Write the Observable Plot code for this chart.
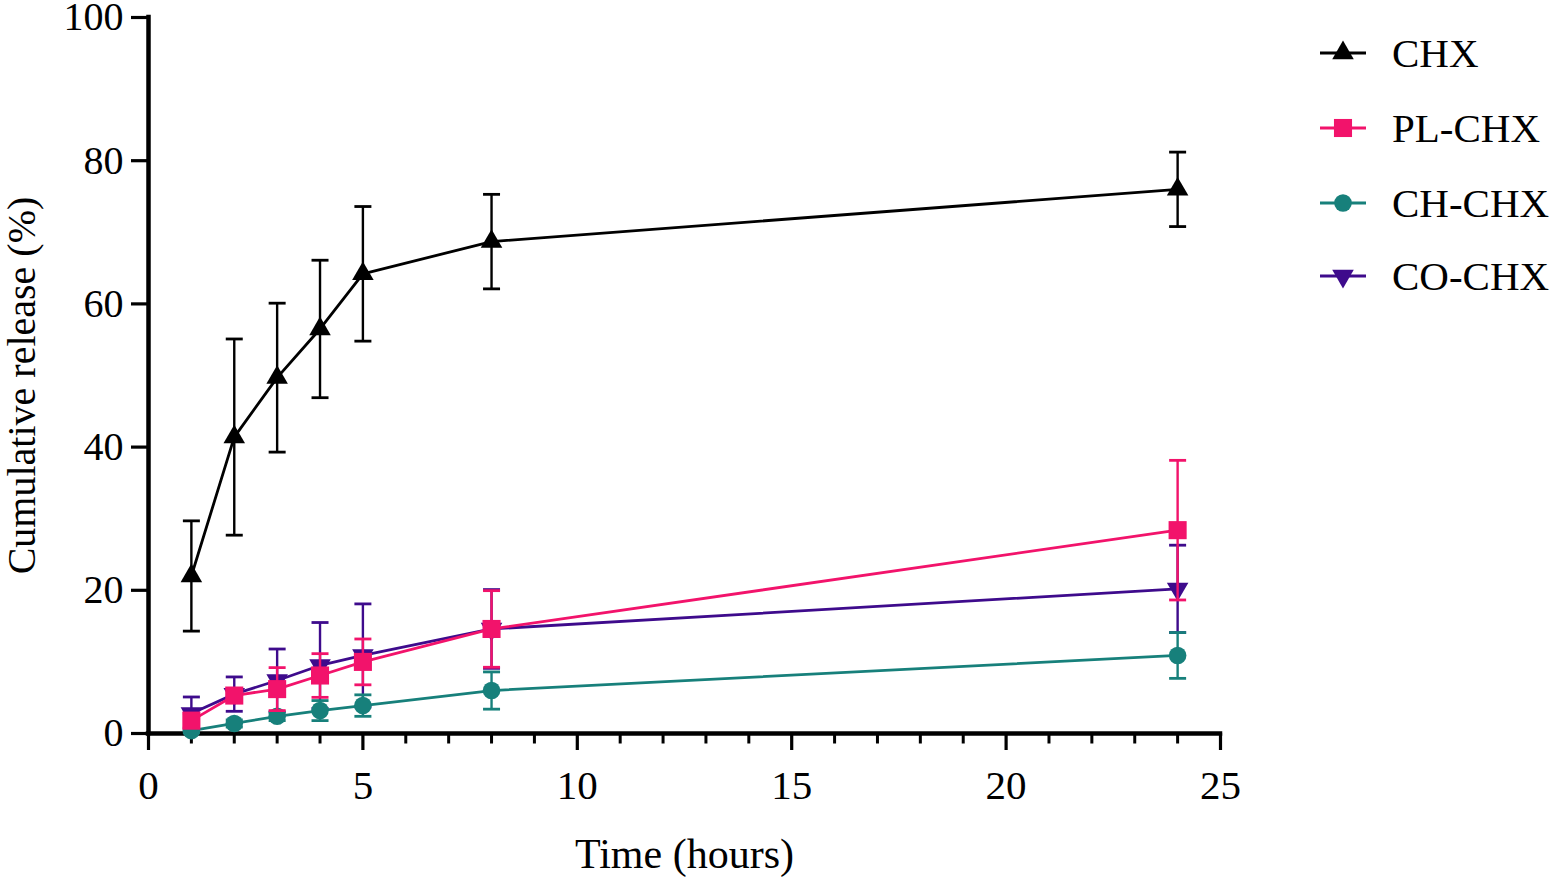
<!DOCTYPE html>
<html><head><meta charset="utf-8">
<script src="https://cdn.jsdelivr.net/npm/d3@7"></script>
<script src="https://cdn.jsdelivr.net/npm/@observablehq/plot@0.6"></script>
<style>
body{margin:0;background:#fff;}
#wrap{position:relative;width:1559px;height:882px;font-family:"Liberation Serif",serif;color:#000;}
#legend{position:absolute;left:1316px;top:0;}
.item{position:absolute;left:0;display:flex;align-items:center;white-space:nowrap;font-size:41px;line-height:1;}
.item svg{margin-right:22px;}
</style></head><body><div id="wrap"><div id="legend"></div></div>
<script>
// ---- data ----
const hours = [1, 2, 3, 4, 5, 8, 24];
const seriesNames = ["CHX", "PL-CHX", "CH-CHX", "CO-CHX"];
const seriesColors = ["#000000", "#F2136B", "#17807B", "#3E0B8C"];
const chxMean = [22.0, 41.4, 49.7, 56.5, 64.2, 68.7, 76.0];
const chxSD   = [7.7, 13.7, 10.4, 9.6, 9.4, 6.6, 5.2];
const plMean  = [1.8, 5.3, 6.2, 8.1, 10.0, 14.6, 28.4];
const plSD    = [1.0, 0.8, 3.0, 3.05, 3.2, 5.35, 9.75];
const chMean  = [0.4, 1.4, 2.4, 3.2, 3.9, 6.0, 10.9];
const chSD    = [0.3, 0.5, 0.6, 1.4, 1.5, 2.6, 3.2];
const coMean  = [2.8, 5.5, 7.4, 9.5, 10.9, 14.6, 20.2];
const coSD    = [2.3, 2.4, 4.4, 6.0, 7.2, 5.5, 6.1];
const xTicks = [0, 5, 10, 15, 20, 25];
const xMinorTicks = [1,2,3,4,6,7,8,9,11,12,13,14,16,17,18,19,21,22,23,24];
const yTicks = [0, 20, 40, 60, 80, 100];
const xTitle = "Time (hours)";
const yTitle = "Cumulative release (%)";

// ---- table ----
const means = {"CHX": chxMean, "PL-CHX": plMean, "CH-CHX": chMean, "CO-CHX": coMean};
const sds = {"CHX": chxSD, "PL-CHX": plSD, "CH-CHX": chSD, "CO-CHX": coSD};
const rows = seriesNames.flatMap(s => hours.map((h, i) => ({series: s, x: h, y: means[s][i], sd: sds[s][i]})));

const capSymbol = {draw(ctx) { ctx.moveTo(-8.5, 0); ctx.lineTo(8.5, 0); }};
const minorTickSymbol = {draw(ctx) { ctx.moveTo(0, 0); ctx.lineTo(0, 10); }};

const drawOrder = ["CO-CHX", "CH-CHX", "PL-CHX", "CHX"];
const symbolOf = {"CHX": ["triangle", 8, 0], "PL-CHX": ["square", 10.2, 0], "CH-CHX": ["circle", 8.8, 0], "CO-CHX": ["triangle", 8, 180]};

const seriesMarks = drawOrder.flatMap(s => {
  const d = rows.filter(r => r.series === s);
  const [sym, r, rot] = symbolOf[s];
  return [
    Plot.ruleX(d, {x: "x", y1: r0 => r0.y - r0.sd, y2: r0 => r0.y + r0.sd, stroke: "series", strokeWidth: 2.4}),
    Plot.dot(d, {x: "x", y: r0 => r0.y + r0.sd, symbol: capSymbol, stroke: "series", strokeWidth: 2.8, fill: "none"}),
    Plot.dot(d, {x: "x", y: r0 => r0.y - r0.sd, symbol: capSymbol, stroke: "series", strokeWidth: 2.8, fill: "none"}),
    Plot.line(d, {x: "x", y: "y", stroke: "series", strokeWidth: 2.8}),
    Plot.dot(d, {x: "x", y: "y", symbol: sym, r, rotate: rot, fill: "series", stroke: "none"})
  ];
});

const chart = Plot.plot({
  width: 1559, height: 882,
  marginLeft: 148, marginRight: 339, marginTop: 17, marginBottom: 149,
  style: {fontFamily: "'Liberation Serif', serif", fontSize: "40px", color: "#000", background: "#fff"},
  x: {domain: [0, 25]},
  y: {domain: [0, 100]},
  color: {domain: seriesNames, range: seriesColors},
  marks: [
    Plot.axisX(xTicks, {tickSize: 17, tickPadding: 19, fontSize: 41, strokeWidth: 3.2, label: null}),
    Plot.dot(xMinorTicks, {x: d => d, y: () => 0, symbol: minorTickSymbol, stroke: "#000", strokeWidth: 3, fill: "none"}),
    Plot.axisY(yTicks, {tickSize: 17, tickPadding: 8, fontSize: 40, strokeWidth: 3.2, label: null}),
    Plot.ruleY([0], {strokeWidth: 4.5, stroke: "#000", strokeLinecap: "square"}),
    Plot.ruleX([0], {strokeWidth: 4.5, stroke: "#000", strokeLinecap: "square"}),
    ...seriesMarks,
    Plot.text([xTitle], {text: d => d, frameAnchor: "bottom", dy: 134, fontSize: 42}),
    Plot.text([yTitle], {text: d => d, frameAnchor: "left", textAnchor: "middle", rotate: -90, dx: -126, dy: 10, fontSize: 40})
  ]
});
document.getElementById("wrap").prepend(chart);

// ---- legend ----
const legend = d3.select("#legend");
const legendY = [53, 128, 203, 276];
seriesNames.forEach((s, i) => {
  const item = legend.append("div").attr("class", "item").style("top", (legendY[i] - 22) + "px").style("height", "44px");
  const svg = item.append("svg").attr("width", 54).attr("height", 30);
  const c = seriesColors[i];
  svg.append("line").attr("x1", 4).attr("x2", 50).attr("y1", 15).attr("y2", 15).attr("stroke", c).attr("stroke-width", 2.8);
  const [sym, r, rot] = symbolOf[s];
  const type = sym === "triangle" ? d3.symbolTriangle : sym === "square" ? d3.symbolSquare : d3.symbolCircle;
  svg.append("path").attr("d", d3.symbol(type, Math.PI * r * r)()).attr("transform", `translate(27,15) rotate(${rot})`).attr("fill", c);
  item.append("span").text(s);
});
</script>
</body></html>
